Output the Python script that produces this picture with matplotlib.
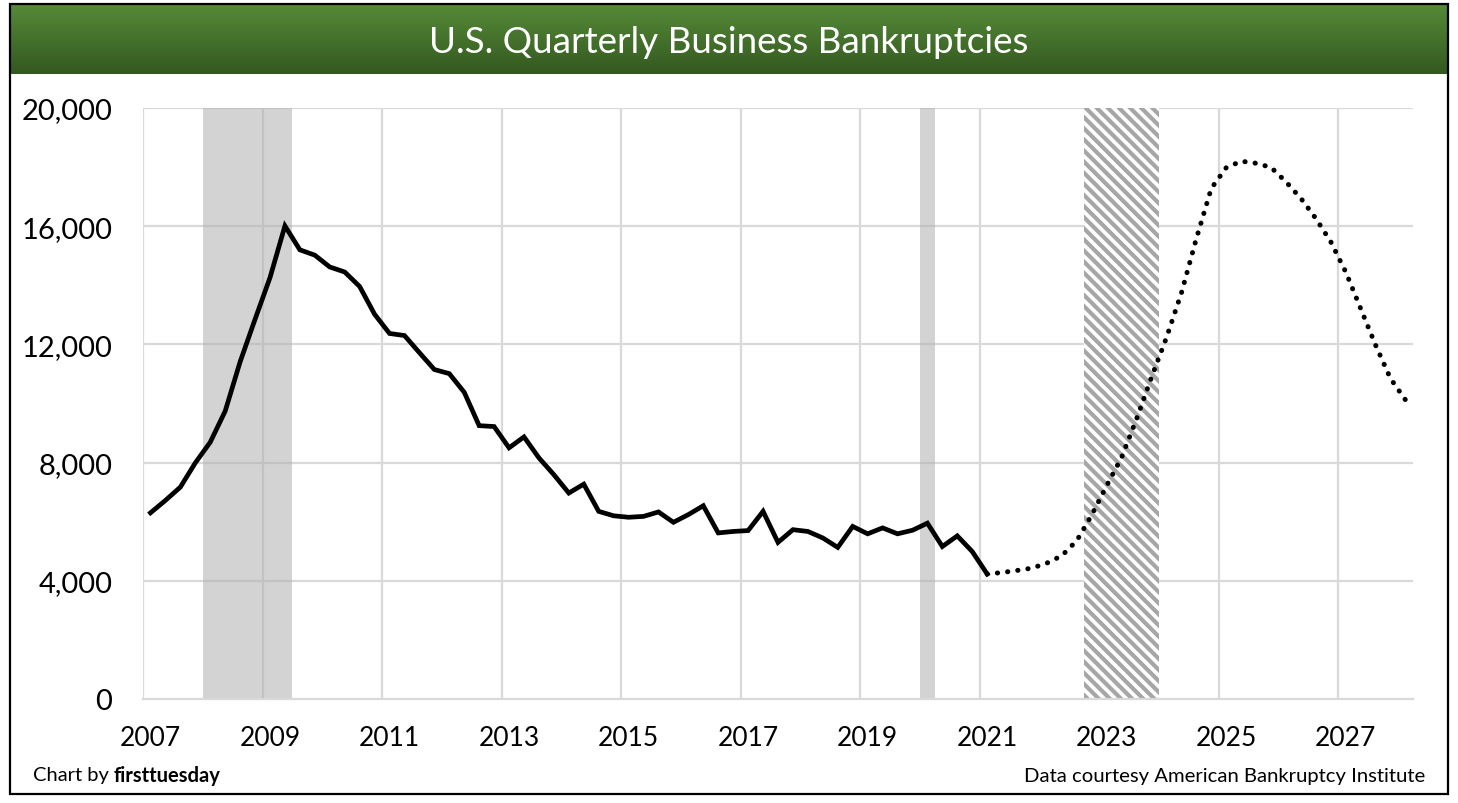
import matplotlib
matplotlib.use("Agg")
import matplotlib.pyplot as plt
import numpy as np
import pandas as pd
from matplotlib.patches import Rectangle

# ---------------- data ----------------
actual_start = "2007Q1"
actual_end = "2021Q1"
actual_values = [6300, 6720, 7170, 7990, 8690, 9740, 11410, 12850, 14260, 16010,
                 15200, 15020, 14620, 14450, 13960, 13020, 12370, 12300, 11720, 11150,
                 11010, 10380, 9250, 9220, 8500, 8870, 8160, 7590, 6970, 7270,
                 6350, 6200, 6150, 6180, 6330, 5980, 6240, 6540, 5620, 5670,
                 5700, 6350, 5300, 5730, 5670, 5450, 5130, 5840, 5590, 5790,
                 5590, 5710, 5950, 5160, 5520, 4990, 4230]

forecast_start = "2021Q1"
forecast_end = "2028Q1"
forecast_values = [4230, 4280, 4350, 4430, 4600, 4850, 5360, 6230, 7220, 8180,
                   9480, 10890, 12230, 13740, 15580, 17280, 17980, 18200, 18130, 17990,
                   17500, 16940, 16260, 15470, 14450, 13210, 11970, 10840, 10120]

recessions = [("2008Q1", "2009Q2"), ("2020Q1", "2020Q1")]
forecast_recession = ("2022Q4", "2023Q4")

year_labels = list(range(2007, 2029, 2))
y_ticks = [0, 4000, 8000, 12000, 16000, 20000]

title = "U.S. Quarterly Business Bankruptcies"
credit_left = "Chart by "
credit_bold = "firsttuesday"
credit_right = "Data courtesy American Bankruptcy Institute"

# ---------------- helpers ----------------
def qmid(p):
    p = pd.Period(p, freq="Q")
    return p.year + (p.quarter - 0.5) / 4.0

def qstart(p):
    p = pd.Period(p, freq="Q")
    return p.year + (p.quarter - 1) / 4.0

def qend(p):
    p = pd.Period(p, freq="Q")
    return p.year + p.quarter / 4.0

actual_x = [qmid(p) for p in pd.period_range(actual_start, actual_end, freq="Q")]
forecast_x = [qmid(p) for p in pd.period_range(forecast_start, forecast_end, freq="Q")]

FONT = ["Lato", "DejaVu Sans"]
plt.rcParams["font.family"] = FONT
plt.rcParams["hatch.linewidth"] = 3.0

W, H = 1458, 804
fig = plt.figure(figsize=(W / 100, H / 100), dpi=100)
fig.patch.set_facecolor("white")

def fx(px):
    return px / W

def fy(py):
    return 1 - py / H

# title band with vertical gradient
band = fig.add_axes([fx(10), fy(75), fx(1448) - fx(10), fy(5) - fy(75)])
grad = np.linspace(0, 1, 256).reshape(-1, 1)
top_c = np.array([0x55, 0x8b, 0x38]) / 255
bot_c = np.array([0x34, 0x58, 0x20]) / 255
img = top_c[None, None, :] * (1 - grad[:, :, None]) + bot_c[None, None, :] * grad[:, :, None]
band.imshow(img, aspect="auto", extent=[0, 1, 0, 1])
band.set_axis_off()
band.text(0.5, 0.47, title, color="white", fontsize=26.5, ha="center", va="center",
          transform=band.transAxes)

# main axes
ax = fig.add_axes([fx(143), fy(700), fx(1413) - fx(143), fy(109) - fy(700)])
ax.set_xlim(2007, qend(forecast_end))
ax.set_ylim(0, 20000)

grid_c = "#d9d9d9"
for yv in y_ticks[1:]:
    ax.axhline(yv, color=grid_c, lw=1.6, zorder=1)
for yr in year_labels:
    ax.axvline(yr, color=grid_c, lw=1.6, zorder=1)

for a, b in recessions:
    ax.axvspan(qstart(a), qend(b), color="#b0b0b0", alpha=0.55, lw=0, zorder=2)

ax.add_patch(Rectangle((qstart(forecast_recession[0]), 0),
                       qend(forecast_recession[1]) - qstart(forecast_recession[0]), 20000,
                       facecolor="white", edgecolor="#a6a6a6", hatch="\\\\\\", lw=0, zorder=3))

ax.plot(actual_x, actual_values, color="black", lw=3.4, solid_joinstyle="miter", zorder=5)
ax.plot(forecast_x, forecast_values, color="black", lw=3.6,
        linestyle=(0, (0.05, 2.0)), dash_capstyle="round", zorder=5)

for s in ["top", "right", "left"]:
    ax.spines[s].set_visible(False)
ax.spines["bottom"].set_color(grid_c)
ax.spines["bottom"].set_linewidth(1.6)
ax.spines["bottom"].set_zorder(4)

ax.set_yticks(y_ticks)
ax.set_yticklabels([f"{v:,}" for v in y_ticks])
ax.set_xticks([y + 0.125 for y in year_labels])
ax.set_xticklabels([str(y) for y in year_labels])
ax.tick_params(axis="y", length=0, pad=22, labelsize=21)
ax.tick_params(axis="x", length=0, pad=19, labelsize=19)

# footer text
t1 = fig.text(fx(33), fy(776), credit_left, fontsize=14.5, ha="left", va="center")
fig.canvas.draw()
bb = t1.get_window_extent()
fig.text(bb.x1 / W, fy(776), credit_bold, fontsize=14.5, fontweight="bold", ha="left", va="center")
fig.text(fx(1425), fy(777), credit_right, fontsize=14.6, ha="right", va="center")

# outer border
fig.add_artist(Rectangle((fx(10), fy(795)), fx(1448) - fx(10), fy(5) - fy(795),
                         transform=fig.transFigure, fill=False, edgecolor="black", lw=1.6))

fig.savefig("out.png", dpi=100)
